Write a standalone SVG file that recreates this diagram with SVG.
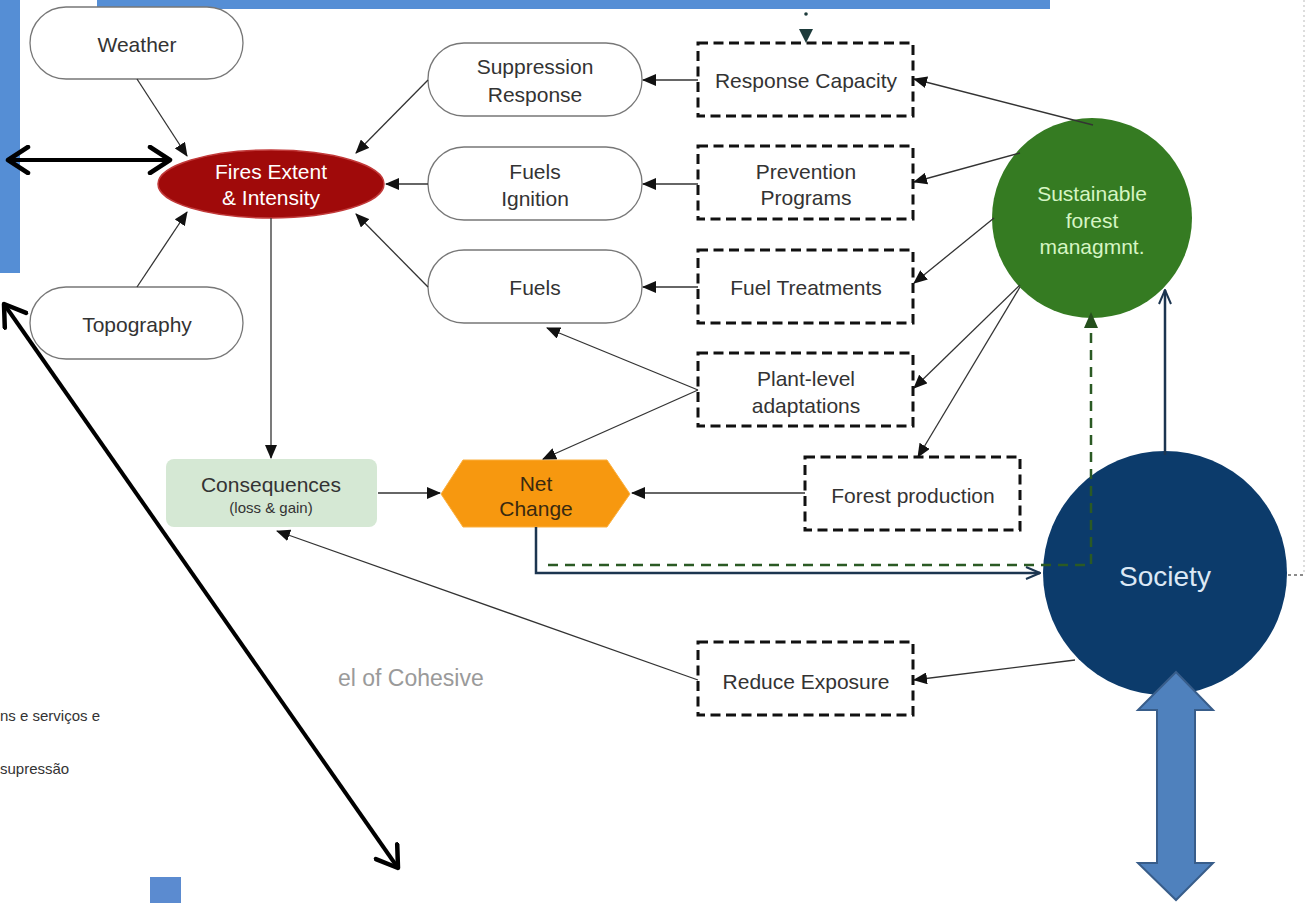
<svg xmlns="http://www.w3.org/2000/svg" width="1306" height="903" viewBox="0 0 1306 903">
<defs>
<style>
.t{font-family:"Liberation Sans",Arial,sans-serif;font-size:21px;fill:#333;text-anchor:middle;dominant-baseline:central}
.pill{fill:#fff;stroke:#777;stroke-width:1.3}
.dbox{fill:#fff;stroke:#111;stroke-width:3;stroke-dasharray:10 5.5}
.c{fill:none;stroke:#333;stroke-width:1.3;marker-end:url(#arr)}
.bk{fill:none;stroke:#000;stroke-width:4;marker-start:url(#chev);marker-end:url(#chev)}
</style>
<marker id="arr" markerUnits="userSpaceOnUse" markerWidth="14" markerHeight="12" viewBox="0 0 14 12" refX="13" refY="6" orient="auto">
<path d="M0,0 L14,6 L0,12 z" fill="#111"/>
</marker>
<marker id="arrG" markerUnits="userSpaceOnUse" markerWidth="16" markerHeight="14" viewBox="0 0 16 14" refX="15" refY="7" orient="auto">
<path d="M0,0 L16,7 L0,14 z" fill="#244f1c"/>
</marker>
<marker id="arrN" markerUnits="userSpaceOnUse" markerWidth="16" markerHeight="14" viewBox="0 0 16 14" refX="15" refY="7" orient="auto">
<path d="M1,1 L15,7 L1,13" fill="none" stroke="#1c3550" stroke-width="2"/>
</marker>
<marker id="chev" markerUnits="userSpaceOnUse" markerWidth="26" markerHeight="30" viewBox="0 0 26 30" refX="23" refY="15" orient="auto-start-reverse">
<path d="M3,2 L23,15 L3,28" fill="none" stroke="#000" stroke-width="4.5" stroke-linecap="round" stroke-linejoin="round"/>
</marker>
</defs>
<rect width="1306" height="903" fill="#fff"/>

<g id="background">
<rect x="97" y="0" width="953" height="9" fill="#558ed5"/>
<rect x="0" y="0" width="20" height="273" fill="#558ed5"/>
<line x1="1304" y1="0" x2="1304" y2="575" stroke="#bbb" stroke-width="1" stroke-dasharray="2 3"/>
<text x="338" y="678" style="font-family:'Liberation Sans',Arial,sans-serif;font-size:23px;fill:#9a9a9a;dominant-baseline:central">el of Cohesive</text>
<text x="0" y="715" style="font-family:'Liberation Sans',Arial,sans-serif;font-size:15px;fill:#333;dominant-baseline:central">ns e serviços e</text>
<text x="0" y="768" style="font-family:'Liberation Sans',Arial,sans-serif;font-size:15px;fill:#333;dominant-baseline:central">supressão</text>
<rect x="150" y="877" width="31" height="26" fill="#5b8bd0"/>
</g>

<g id="weather"><rect class="pill" x="30" y="7" width="213" height="72" rx="36"/><text class="t" x="137" y="44">Weather</text></g>
<g id="topography"><rect class="pill" x="30" y="287" width="213" height="72" rx="36"/><text class="t" x="137" y="324">Topography</text></g>
<g id="fires"><ellipse cx="271" cy="184" rx="113" ry="34" fill="#a00a0a" stroke="#c23a3a" stroke-width="1.5"/><text class="t" x="271" y="171" style="fill:#fff">Fires Extent</text><text class="t" x="271" y="197" style="fill:#fff">&amp; Intensity</text></g>
<g id="suppression"><rect class="pill" x="428" y="43" width="214" height="73" rx="36"/><text class="t" x="535" y="66">Suppression</text><text class="t" x="535" y="94">Response</text></g>
<g id="fuels-ignition"><rect class="pill" x="428" y="147" width="214" height="73" rx="36"/><text class="t" x="535" y="171">Fuels</text><text class="t" x="535" y="198">Ignition</text></g>
<g id="fuels"><rect class="pill" x="428" y="250" width="214" height="73" rx="36"/><text class="t" x="535" y="287">Fuels</text></g>
<g id="response-capacity"><rect class="dbox" x="698" y="43" width="215" height="73"/><text class="t" x="806" y="80">Response Capacity</text></g>
<g id="prevention"><rect class="dbox" x="698" y="146" width="215" height="73"/><text class="t" x="806" y="171">Prevention</text><text class="t" x="806" y="197">Programs</text></g>
<g id="fuel-treatments"><rect class="dbox" x="698" y="250" width="215" height="73"/><text class="t" x="806" y="287">Fuel Treatments</text></g>
<g id="plant-level"><rect class="dbox" x="698" y="353" width="215" height="73"/><text class="t" x="806" y="378">Plant-level</text><text class="t" x="806" y="405">adaptations</text></g>
<g id="forest-production"><rect class="dbox" x="805" y="457" width="215" height="73"/><text class="t" x="913" y="495">Forest production</text></g>
<g id="reduce-exposure"><rect class="dbox" x="698" y="642" width="215" height="73"/><text class="t" x="806" y="681">Reduce Exposure</text></g>
<g id="consequences"><rect x="166" y="459" width="211" height="68" rx="8" fill="#d5e8d4"/><text class="t" x="271" y="484">Consequences</text><text class="t" x="271" y="507" style="font-size:15px">(loss &amp; gain)</text></g>
<g id="net-change"><polygon points="441,494 463,460 607,460 630,494 607,527 463,527" fill="#f7980f" stroke="#fbb040" stroke-width="1"/><text class="t" x="536" y="483" style="fill:#3a2a10">Net</text><text class="t" x="536" y="508" style="fill:#3a2a10">Change</text></g>
<g id="sustainable"><circle cx="1092" cy="218" r="100" fill="#357b22"/><text class="t" x="1092" y="193" style="fill:#d6f5c4">Sustainable</text><text class="t" x="1092" y="220" style="fill:#d6f5c4">forest</text><text class="t" x="1092" y="246" style="fill:#d6f5c4">managmnt.</text></g>
<g id="society"><circle cx="1165" cy="573" r="122" fill="#0c3b6b"/><text class="t" x="1165" y="576" style="font-size:28px;fill:#dce8f5">Society</text></g>
<g id="big-arrow"><path d="M1176,672 L1213,710 L1195,710 L1195,863 L1213,863 L1176,900 L1138,863 L1157,863 L1157,710 L1138,710 Z" fill="#4f81bd" stroke="#385d8a" stroke-width="2" stroke-linejoin="miter"/></g>

<g id="connectors">
<line class="c" x1="137" y1="79" x2="187" y2="156"/>
<line class="c" x1="137" y1="287" x2="187" y2="212"/>
<line class="c" x1="428" y1="80" x2="356" y2="153"/>
<line class="c" x1="428" y1="184" x2="386" y2="184"/>
<line class="c" x1="428" y1="287" x2="356" y2="214"/>
<line class="c" x1="271" y1="218" x2="271" y2="458"/>
<line class="c" x1="698" y1="80" x2="643" y2="80"/>
<line class="c" x1="698" y1="184" x2="643" y2="184"/>
<line class="c" x1="698" y1="287" x2="643" y2="287"/>
<line class="c" x1="698" y1="390" x2="547" y2="328"/>
<line class="c" x1="698" y1="390" x2="543" y2="459"/>
<line class="c" x1="805" y1="493" x2="632" y2="493"/>
<line class="c" x1="378" y1="493" x2="440" y2="493"/>
<line class="c" x1="698" y1="680" x2="277" y2="531"/>
<line class="c" x1="1075" y1="660" x2="914" y2="680"/>
<line class="c" x1="1093" y1="125" x2="914" y2="79"/>
<line class="c" x1="1020" y1="153" x2="914" y2="182"/>
<line class="c" x1="994" y1="218" x2="914" y2="283"/>
<line class="c" x1="1020" y1="285" x2="914" y2="388"/>
<line class="c" x1="1020" y1="287" x2="918" y2="457"/>
<polyline points="536,527 536,573 1040,573" fill="none" stroke="#1c3550" stroke-width="2.5" marker-end="url(#arrN)"/>
<polyline points="548,565 1091,565 1091,313" fill="none" stroke="#2b5a24" stroke-width="2.5" stroke-dasharray="10 7" marker-end="url(#arrG)"/>
<line x1="1165" y1="455" x2="1165" y2="290" stroke="#1c3550" stroke-width="2.5" marker-end="url(#arrN)"/>
<line x1="1288" y1="575" x2="1306" y2="575" stroke="#666" stroke-width="1.5" stroke-dasharray="3 3"/>
<circle cx="806" cy="14" r="1.8" fill="#1d3b3b"/>
<path d="M799,29 L813,29 L806,43 Z" fill="#1d3b3b"/>
<line class="bk" x1="8" y1="160" x2="170" y2="160"/>
<line class="bk" x1="4" y1="304" x2="398" y2="868"/>
</g>
</svg>
